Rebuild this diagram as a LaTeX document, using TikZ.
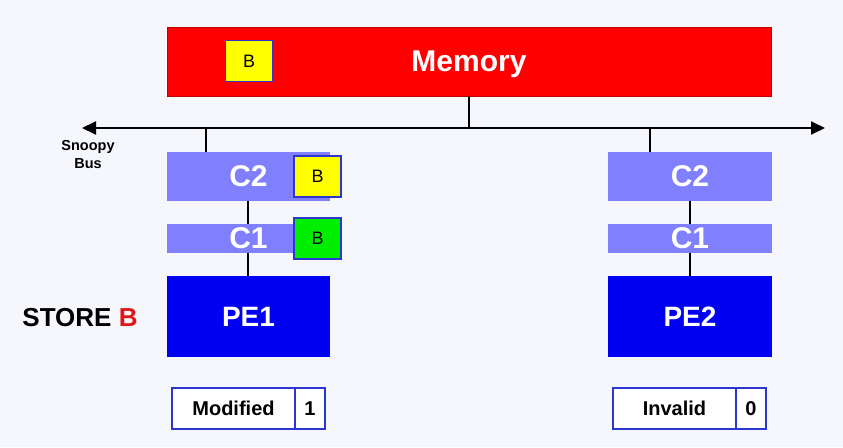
\documentclass[tikz,border=0pt]{standalone}
\usepackage{fontspec}
\setmainfont{Liberation Sans}
\usetikzlibrary{arrows.meta}
\definecolor{bg}{HTML}{F5F7FC}
\definecolor{memred}{HTML}{FF0000}
\definecolor{cachec}{HTML}{8080FF}
\definecolor{pec}{HTML}{0000F2}
\definecolor{bord}{HTML}{2B35D0}
\definecolor{yel}{HTML}{FFFF00}
\definecolor{grn}{HTML}{00EE00}
\definecolor{storered}{HTML}{E01515}
\begin{document}
\begin{tikzpicture}[x=1pt,y=-1pt,
  box/.style={inner sep=0pt,outer sep=0pt,minimum width=#1,text depth=0pt},
  memory/.style={box=604pt,minimum height=69pt,fill=memred,draw=red!75!black,line width=0.6pt,text=white,font=\bfseries\fontsize{30}{34}\selectfont},
  cachebig/.style={box=163pt,minimum height=49pt,fill=cachec,text=white,font=\bfseries\fontsize{30}{34}\selectfont},
  cachesmall/.style={box=163pt,minimum height=29pt,fill=cachec,text=white,font=\bfseries\fontsize{30}{34}\selectfont},
  pe/.style={box=163pt,minimum height=81pt,fill=pec,text=white,font=\bfseries\fontsize{28}{32}\selectfont},
  blk/.style={box=47pt,minimum height=41pt,draw=bord,line width=1.6pt,font=\fontsize{18}{20}\selectfont},
  state/.style={box=123pt,minimum height=41pt,fill=white,draw=bord,line width=1.5pt,font=\bfseries\fontsize{20}{24}\selectfont},
  bit/.style={box=30pt,minimum height=41pt,fill=white,draw=bord,line width=1.5pt,font=\bfseries\fontsize{20}{24}\selectfont},
  wire/.style={line width=2pt,draw=black}
]
\useasboundingbox (0,0) rectangle (843,447);
\fill[bg] (0,0) rectangle (843,447);

% memory
\node[memory] (mem) at (469,61.5) {Memory};
\node[blk,fill=yel] (memB) at (249,61) {B};

% bus
\coordinate (busL) at (82,128);
\coordinate (busR) at (825,128);
\draw[wire,{Triangle[length=14pt,width=13pt]}-{Triangle[length=14pt,width=13pt]}] (busL) -- (busR);
\draw[wire] (mem.south) -- (mem.south |- busR);

\node[align=center,font=\bfseries\fontsize{14.5}{18}\selectfont] (snoopy) at (88,155) {Snoopy\\Bus};

% left column
\node[cachebig] (c2l) at (248.5,176.5) {C2};
\node[cachesmall] (c1l) at (248.5,238.5) {C1};
\node[pe] (pe1) at (248.5,316.5) {PE1};
\node[blk,fill=yel] (c2B) at (317.5,176.5) {B};
\node[blk,fill=grn] (c1B) at (317.5,238.5) {B};
\coordinate (dropL) at (206,128);
\coordinate (midL) at (248,0);
\draw[wire] (dropL) -- (dropL |- c2l.north);
\draw[wire] (midL |- c2l.south) -- (midL |- c1l.north);
\draw[wire] (midL |- c1l.south) -- (midL |- pe1.north);

\node[font=\bfseries\fontsize{26}{30}\selectfont] (store) at (80,318) {STORE \textcolor{storered}{B}};

% right column
\node[cachebig,minimum width=164pt] (c2r) at (690,176.5) {C2};
\node[cachesmall,minimum width=164pt] (c1r) at (690,238.5) {C1};
\node[pe,minimum width=164pt] (pe2) at (690,316.5) {PE2};
\coordinate (dropR) at (650,128);
\draw[wire] (dropR) -- (dropR |- c2r.north);
\draw[wire] (c2r.south) -- (c1r.north);
\draw[wire] (c1r.south) -- (pe2.north);

% states
\node[state] (st1) at (233.5,408.5) {Modified};
\node[bit] (b1) at (310,408.5) {1};
\node[state] (st2) at (674.5,408.5) {Invalid};
\node[bit] (b2) at (751,408.5) {0};
\end{tikzpicture}
\end{document}
